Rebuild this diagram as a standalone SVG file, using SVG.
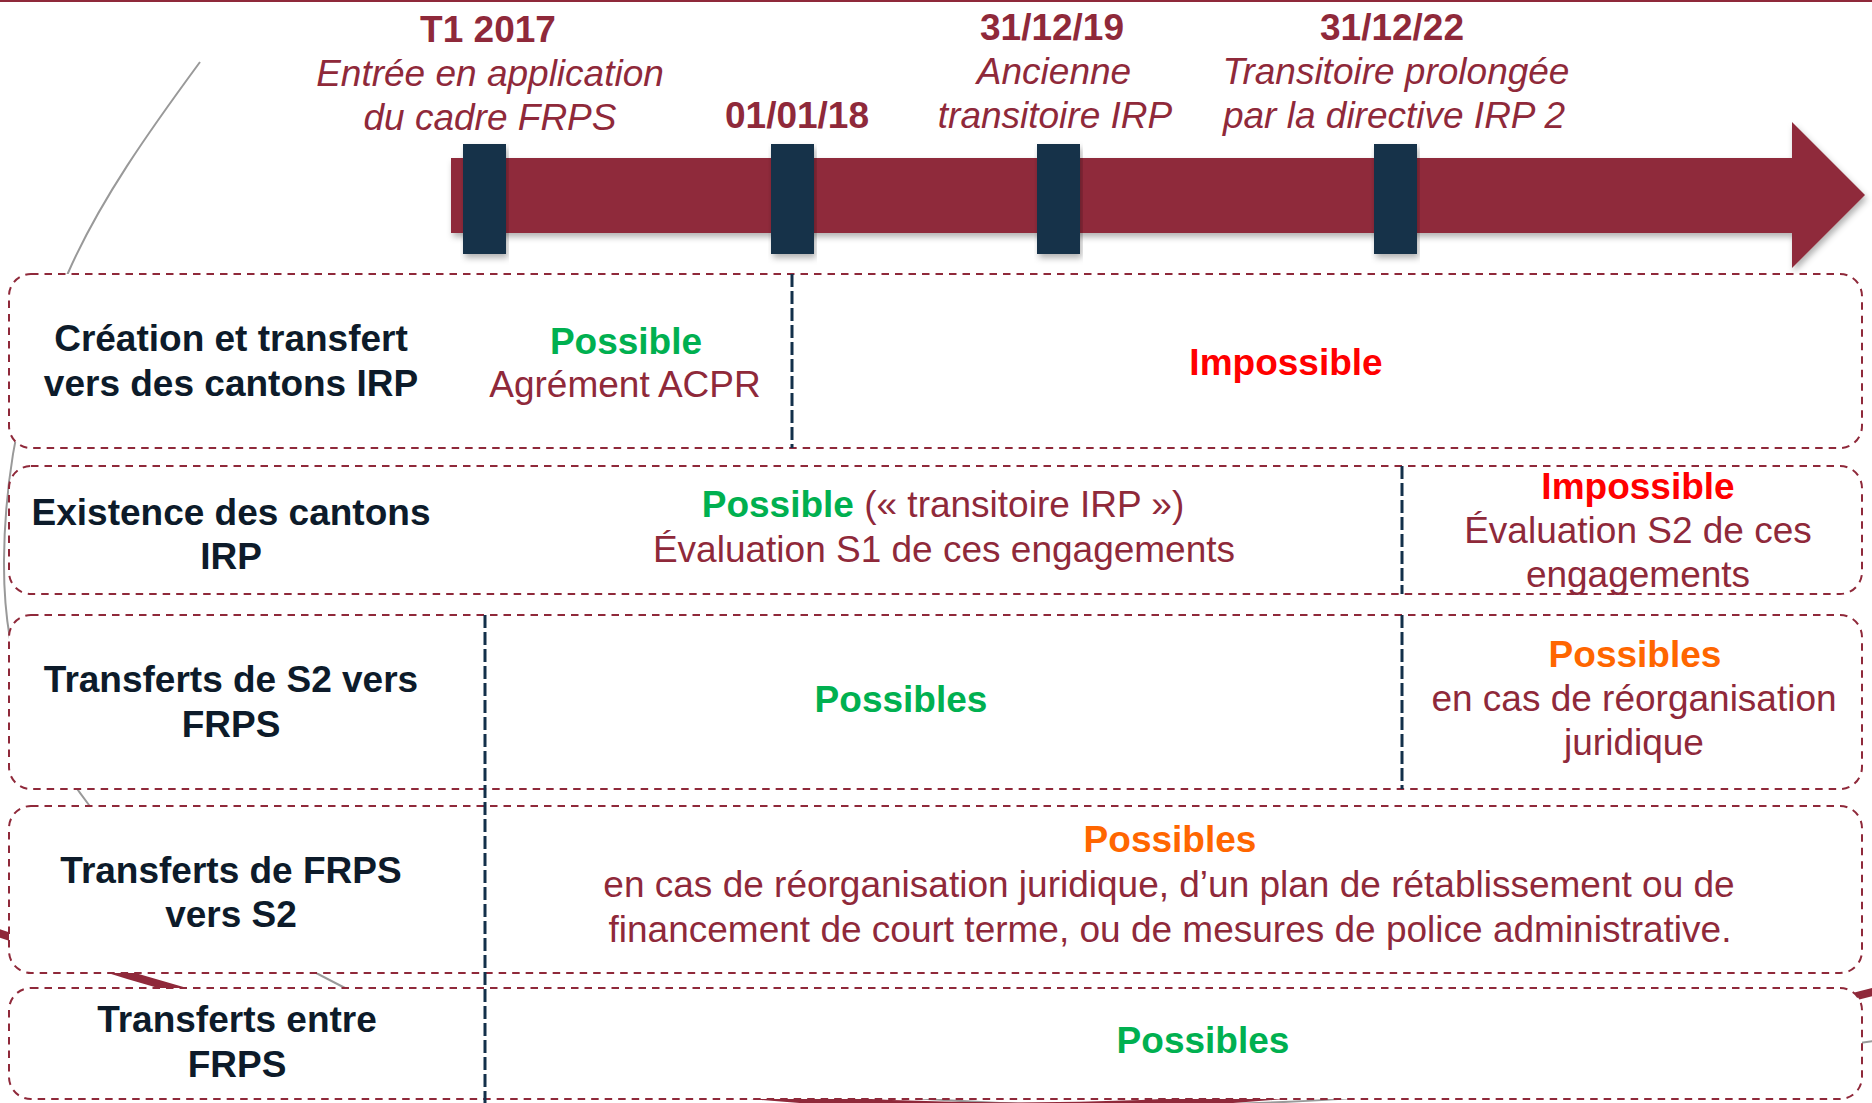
<svg xmlns="http://www.w3.org/2000/svg" width="1872" height="1103" viewBox="0 0 1872 1103">
<defs>
<style>
text{font-family:"Liberation Sans",Arial,sans-serif;font-size:37px;text-anchor:middle}
.hb{font-weight:bold;fill:#8F293A}
.hi{font-style:italic;fill:#8F293A}
.lab{font-weight:bold;fill:#0D1B2A}
.dr{fill:#8F293A}
.g{font-weight:bold;fill:#00B050}
.r{font-weight:bold;fill:#FF0000}
.o{font-weight:bold;fill:#FF6600}
.box{fill:#fff;stroke:#8F293A;stroke-width:2;stroke-dasharray:7.5 6}
.sep{stroke:#13304A;stroke-width:3;stroke-dasharray:13 4;fill:none}
.tick{fill:#13304A}
</style>
<filter id="sh" x="-5%" y="-20%" width="110%" height="150%">
<feDropShadow dx="2" dy="4" stdDeviation="3" flood-color="#000" flood-opacity="0.3"/>
</filter>
</defs>
<rect x="0" y="0" width="1872" height="2" fill="#8F293A"/>
<g id="decor">
<path d="M200,62 C150,130 100,200 68,273 S5,440 4,560 S40,740 89,805 S250,940 347,989 S700,1090 1000,1103 S1600,1080 1880,1040" fill="none" stroke="#999" stroke-width="2"/>
<path d="M-10,930 Q900,1250 1880,990" fill="none" stroke="#8F293A" stroke-width="8"/>
</g>
<g id="timeline">
<path d="M451,158 H1792 V122 L1865,195 L1792,268 V233 H451 Z" fill="#8F293A" filter="url(#sh)"/>
<rect class="tick" x="463" y="144" width="43" height="110" filter="url(#sh)"/>
<rect class="tick" x="771" y="144" width="43" height="110" filter="url(#sh)"/>
<rect class="tick" x="1037" y="144" width="43" height="110" filter="url(#sh)"/>
<rect class="tick" x="1374" y="144" width="43" height="110" filter="url(#sh)"/>
</g>
<g id="milestone-t1-2017">
<text class="hb" x="488" y="42">T1 2017</text>
<text class="hi" x="490" y="86">Entrée en application</text>
<text class="hi" x="490" y="130">du cadre FRPS</text>
</g>
<g id="milestone-010118">
<text class="hb" x="797" y="128">01/01/18</text>
</g>
<g id="milestone-311219">
<text class="hb" x="1052" y="40">31/12/19</text>
<text class="hi" x="1054" y="84">Ancienne</text>
<text class="hi" x="1055" y="128">transitoire IRP</text>
</g>
<g id="milestone-311222">
<text class="hb" x="1392" y="40">31/12/22</text>
<text class="hi" x="1396" y="84">Transitoire prolongée</text>
<text class="hi" x="1394" y="128">par la directive IRP 2</text>
</g>
<g id="row-creation">
<rect class="box" x="9" y="274" width="1853" height="174" rx="22"/>
<text class="lab" x="231" y="351">Création et transfert</text>
<text class="lab" x="231" y="396">vers des cantons IRP</text>
<text class="g" x="626" y="354">Possible</text>
<text class="dr" x="625" y="397">Agrément ACPR</text>
<text class="r" x="1286" y="375">Impossible</text>
</g>
<g id="row-existence">
<rect class="box" x="9" y="466" width="1853" height="128" rx="22"/>
<text class="lab" x="231" y="525">Existence des cantons</text>
<text class="lab" x="231" y="569">IRP</text>
<text class="dr" x="943" y="517"><tspan class="g">Possible</tspan> (« transitoire IRP »)</text>
<text class="dr" x="944" y="562">Évaluation S1 de ces engagements</text>
<text class="r" x="1638" y="499">Impossible</text>
<text class="dr" x="1638" y="543">Évaluation S2 de ces</text>
<text class="dr" x="1638" y="587">engagements</text>
</g>
<g id="row-s2-frps">
<rect class="box" x="9" y="615" width="1853" height="174" rx="22"/>
<text class="lab" x="231" y="692">Transferts de S2 vers</text>
<text class="lab" x="231" y="737">FRPS</text>
<text class="g" x="901" y="712">Possibles</text>
<text class="o" x="1635" y="667">Possibles</text>
<text class="dr" x="1634" y="711">en cas de réorganisation</text>
<text class="dr" x="1634" y="755">juridique</text>
</g>
<g id="row-frps-s2">
<rect class="box" x="9" y="806" width="1853" height="167" rx="22"/>
<text class="lab" x="231" y="883">Transferts de FRPS</text>
<text class="lab" x="231" y="927">vers S2</text>
<text class="o" x="1170" y="852">Possibles</text>
<text class="dr" x="1169" y="897">en cas de réorganisation juridique, d’un plan de rétablissement ou de</text>
<text class="dr" x="1170" y="942">financement de court terme, ou de mesures de police administrative.</text>
</g>
<g id="row-frps-frps">
<rect class="box" x="9" y="988" width="1853" height="111" rx="22"/>
<text class="lab" x="237" y="1032">Transferts entre</text>
<text class="lab" x="237" y="1077">FRPS</text>
<text class="g" x="1203" y="1053">Possibles</text>
</g>
<g id="connectors">
<line class="sep" x1="792" y1="274" x2="792" y2="448"/>
<line class="sep" x1="1402" y1="466" x2="1402" y2="594"/>
<line class="sep" x1="1402" y1="615" x2="1402" y2="789"/>
<line class="sep" x1="485" y1="615" x2="485" y2="1103"/>
</g>
</svg>
